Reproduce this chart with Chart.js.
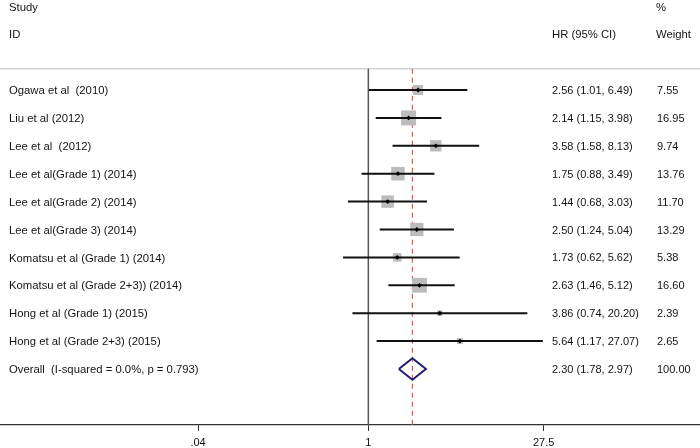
<!DOCTYPE html>
<html>
<head>
<meta charset="utf-8">
<script src="https://cdn.jsdelivr.net/npm/chart.js@4.4.0/dist/chart.umd.min.js"></script>
<style>
  html, body { margin: 0; padding: 0; background: #fff; }
  #wrap { width: 700px; height: 448px; }
</style>
</head>
<body>
<div id="wrap"><canvas id="forestCanvas"></canvas></div>
<script>
// study data
var studies = ["Ogawa et al  (2010)", "Liu et al (2012)", "Lee et al  (2012)", "Lee et al(Grade 1) (2014)",
  "Lee et al(Grade 2) (2014)", "Lee et al(Grade 3) (2014)", "Komatsu et al (Grade 1) (2014)",
  "Komatsu et al (Grade 2+3)) (2014)", "Hong et al (Grade 1) (2015)", "Hong et al (Grade 2+3) (2015)"];
var hr = [2.56, 2.14, 3.58, 1.75, 1.44, 2.50, 1.73, 2.63, 3.86, 5.64];
var lo = [1.01, 1.15, 1.58, 0.88, 0.68, 1.24, 0.62, 1.46, 0.74, 1.17];
var hi = [6.49, 3.98, 8.13, 3.49, 3.03, 5.04, 5.62, 5.12, 20.20, 27.07];
var weights = [7.55, 16.95, 9.74, 13.76, 11.70, 13.29, 5.38, 16.60, 2.39, 2.65];

var overallLabel = "Overall  (I-squared = 0.0%, p = 0.793)";
var overall = { hr: 2.30, lo: 1.78, hi: 2.97, weight: "100.00" };

var xTicks = [0.04, 1, 27.5];
var xTickLabels = [".04", "1", "27.5"];

// scale range (log axis spans full width)
var xMin = 0.000947, xMax = 528;
var yMin = -3.226, yMax = 12.007;
var headerRule = -0.76;
var overallRow = studies.length;

var txtFont = "11.3px 'Liberation Sans', Arial, sans-serif";
var numFont = "11px 'Liberation Sans', Arial, sans-serif";
var txtColor = "#141414";

var ciSets = studies.map(function (s, i) {
    return {
        type: 'line',
        data: [{x: lo[i], y: i}, {x: hi[i], y: i}],
        borderColor: '#111',
        borderWidth: 2,
        pointRadius: 0,
        order: 3
    };
});

var datasets = [
    {   // header separator
        type: 'line',
        data: [{x: xMin, y: headerRule}, {x: xMax, y: headerRule}],
        borderColor: '#d2d2d2', borderWidth: 1.5, pointRadius: 0, order: 9
    },
    {   // line of no effect
        type: 'line',
        data: [{x: 1, y: headerRule}, {x: 1, y: yMax}],
        borderColor: '#555', borderWidth: 1.5, pointRadius: 0, order: 8
    },
    {   // overall effect
        type: 'line',
        data: [{x: overall.hr, y: headerRule}, {x: overall.hr, y: yMax}],
        borderColor: '#c0696b', borderWidth: 1.2, borderDash: [5, 4], pointRadius: 0, order: 7
    },
    {   // weight boxes
        type: 'scatter',
        data: hr.map(function (v, i) { return {x: v, y: i}; }),
        pointStyle: 'rect',
        pointRadius: weights.map(function (w) { return 3.64 * Math.sqrt(w) / Math.SQRT2; }),
        backgroundColor: '#bcbcbc', borderWidth: 0, order: 4
    },
    {   // point estimates
        type: 'scatter',
        data: hr.map(function (v, i) { return {x: v, y: i}; }),
        pointStyle: 'rectRot', pointRadius: 2.4,
        backgroundColor: '#000', borderWidth: 0, order: 1
    },
    {   // overall diamond
        type: 'line',
        data: [{x: overall.lo, y: overallRow}, {x: overall.hr, y: overallRow - 0.385},
               {x: overall.hi, y: overallRow}, {x: overall.hr, y: overallRow + 0.385},
               {x: overall.lo, y: overallRow}],
        borderColor: '#1f1f6e', borderWidth: 2, pointRadius: 0, tension: 0, order: 2
    }
].concat(ciSets);

var textPlugin = {
    id: 'forestText',
    afterDraw: function (chart) {
        var ctx = chart.ctx;
        var y = chart.scales.y;
        var row = function (v) { return y.getPixelForValue(v) + 1; };
        ctx.save();
        ctx.fillStyle = txtColor;
        ctx.textAlign = 'left';
        ctx.textBaseline = 'middle';
        ctx.font = txtFont;
        ctx.fillText("Study", 9, row(-2.986));
        ctx.fillText("ID", 9, row(-2.02));
        ctx.fillText("%", 656, row(-2.986));
        ctx.fillText("HR (95% CI)", 552, row(-2.02));
        ctx.fillText("Weight", 656, row(-2.02));
        studies.forEach(function (s, i) {
            var py = row(i);
            ctx.font = txtFont;
            ctx.fillText(s, 9, py);
            ctx.font = numFont;
            ctx.fillText(hr[i].toFixed(2) + " (" + lo[i].toFixed(2) + ", " + hi[i].toFixed(2) + ")", 552, py);
            ctx.fillText(weights[i].toFixed(2), 657, py);
        });
        var oy = row(overallRow);
        ctx.font = txtFont;
        ctx.fillText(overallLabel, 9, oy);
        ctx.font = numFont;
        ctx.fillText(overall.hr.toFixed(2) + " (" + overall.lo.toFixed(2) + ", " + overall.hi.toFixed(2) + ")", 552, oy);
        ctx.fillText(overall.weight, 657, oy);
        ctx.restore();
    }
};

new Chart(document.getElementById('forestCanvas'), {
    type: 'scatter',
    data: { datasets: datasets },
    options: {
        responsive: true,
        maintainAspectRatio: false,
        animation: false,
        layout: { padding: 0, autoPadding: false },
        plugins: { legend: { display: false }, tooltip: { enabled: false } },
        scales: {
            x: {
                type: 'logarithmic',
                min: xMin, max: xMax,
                afterBuildTicks: function (scale) {
                    scale.ticks = xTicks.map(function (v) { return {value: v}; });
                },
                afterFit: function (scale) { scale.height = 23; },
                ticks: {
                    autoSkip: false, maxRotation: 0, padding: 5,
                    color: txtColor,
                    font: { family: "'Liberation Sans', Arial, sans-serif", size: 11 },
                    callback: function (v) {
                        var k = xTicks.indexOf(v);
                        return k >= 0 ? xTickLabels[k] : '';
                    }
                },
                grid: { drawOnChartArea: false, drawTicks: true, tickLength: 6, color: '#333' },
                border: { display: true, color: '#333', width: 1.2 }
            },
            y: {
                type: 'linear', reverse: true, display: false,
                min: yMin, max: yMax
            }
        }
    },
    plugins: [textPlugin]
});
</script>
</body>
</html>
